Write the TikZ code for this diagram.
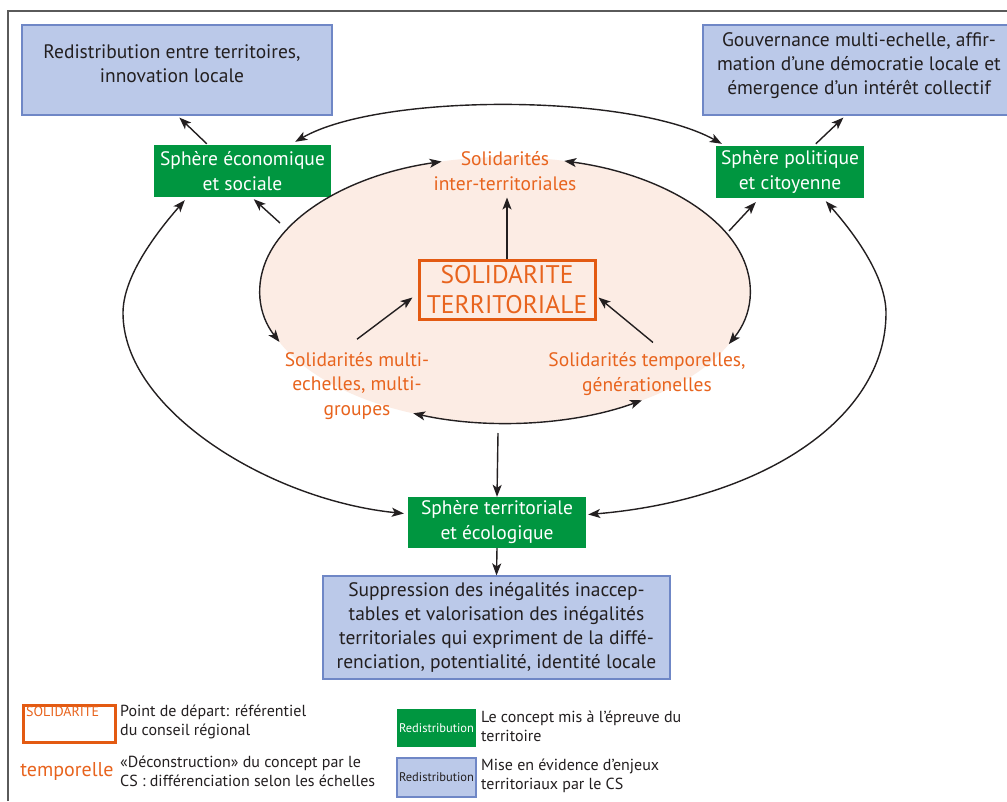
\documentclass[tikz,border=0pt]{standalone}
\usepackage{fontspec}
\setmainfont{PT Sans}
\usetikzlibrary{arrows.meta,calc}
\definecolor{dark}{HTML}{231F20}
\definecolor{org}{HTML}{E8641E}
\definecolor{orgedge}{HTML}{E35A12}
\definecolor{grn}{HTML}{009640}
\definecolor{blu}{HTML}{BBC9E9}
\definecolor{bluedge}{HTML}{6F87C6}
\definecolor{peach}{HTML}{FCECE4}
\definecolor{framecol}{HTML}{5A5A5A}
\newcommand\fmain{\fontsize{19.5}{24}\selectfont}
\newcommand\fgreen{\fontsize{19.5}{25}\selectfont}
\newcommand\flab{\fontsize{19.5}{24.5}\selectfont}
\newcommand\fsol{\fontsize{25.5}{30}\selectfont}
\newcommand\fleg{\fontsize{16}{19}\selectfont}
\newcommand\flegsmall{\fontsize{12.5}{15}\selectfont}
\begin{document}
\begin{tikzpicture}[x=1pt,y=-1pt,
  >={Stealth[length=12pt,width=9pt,inset=3pt]},
  conn/.style={draw=dark,line width=1.4pt},
  bluebox/.style={draw=bluedge,fill=blu,line width=1.2pt,inner sep=0pt},
  greenbox/.style={fill=grn,text=white,inner sep=0pt,align=center,font=\fgreen},
  darktext/.style={text=dark,inner sep=0pt,align=center,font=\fmain},
  orgtext/.style={text=org,inner sep=0pt,align=center,font=\flab},
  legtext/.style={text=dark,inner sep=0pt,align=left,anchor=west,font=\fleg}
  ]
\useasboundingbox (0,0) rectangle (1007,801);
\fill[white] (0,0) rectangle (1007,801);
% frame
\draw[framecol,line width=1.2pt] (8,801) -- (8,11) -- (1007,11);

% ellipse
\fill[peach] (505,290) ellipse [x radius=245, y radius=133];

% top blue boxes
\node[bluebox,minimum width=310,minimum height=90] (tl) at (177,70) {};
\node[darktext] (tltext) at (172,64) {Redistribution entre territoires,\\innovation locale};
\node[bluebox,minimum width=310,minimum height=90] (tr) at (858,70) {};
\node[darktext] (trtext) at (859,66) {Gouvernance multi-echelle, affir-\\mation d’une démocratie locale et\\émergence d’un intérêt collectif};

% green boxes
\node[greenbox,minimum width=177,minimum height=52] (es) at (242.5,171) {Sphère économique\\et sociale};
\node[greenbox,minimum width=148,minimum height=52] (pc) at (790,172) {Sphère politique\\et citoyenne};
\node[greenbox,minimum width=178,minimum height=51] (st) at (497,522.5) {Sphère territoriale\\et écologique};

% bottom blue box
\node[bluebox,darktext,minimum width=347,minimum height=103] (bb) at (496.5,627.5)
  {Suppression des inégalités inaccep-\\tables et valorisation des inégalités\\territoriales qui expriment de la diffé-\\renciation, potentialité, identité locale};

% central box
\node[draw=orgedge,line width=3pt,text=org,fill=none,minimum width=176,minimum height=59,inner sep=0pt,align=center,font=\fsol] (sol) at (507,289.5) {SOLIDARITE\\TERRITORIALE};

% orange labels
\node[orgtext] (lit) at (505,171) {Solidarités\\inter-territoriales};
\node[orgtext] (lmulti) at (357,386) {Solidarités multi-\\echelles, multi-\\groupes};
\node[orgtext] (ltemp) at (647,374) {Solidarités temporelles,\\générationelles};

% ellipse arcs
\path (505,290) ++(255:245 and 133) coordinate (etl);
\path (505,290) ++(284:245 and 133) coordinate (etr);
\path (505,290) ++(112:245 and 133) coordinate (ebl);
\draw[conn,<->] (etl) arc[start angle=255,end angle=157,x radius=245,y radius=133];
\draw[conn,<->] (etr) arc[start angle=284,end angle=384,x radius=245,y radius=133];
\draw[conn,<->] (ebl) arc[start angle=112,end angle=56,x radius=245,y radius=133];

% small arrows
\coordinate (ell-es) at (280,223);
\coordinate (ell-pc) at (729,231);
\coordinate (ell-st) at (498,433);
\draw[conn,->] ($(es.north west)+(53,-1)$) -- ($(tl.south west)+(158,2)$);
\draw[conn,->] (ell-es) -- ($(es.south west)+(100,2)$);
\draw[conn,->] (ell-pc) -- ($(pc.south west)+(40,4)$);
\draw[conn,->] ($(pc.north west)+(100,-2)$) -- ($(tr.south west)+(141,2)$);
\draw[conn,->] (sol.north) -- ($(sol.north)+(0,-61)$);
\draw[conn,->] ($(lmulti.north)+(0,-13)$) -- ($(sol.west)+(-5,8)$);
\draw[conn,->] ($(ltemp.north)+(6,-10)$) -- ($(sol.east)+(2,8)$);
\draw[conn,->] (ell-st) -- (st.north);
\draw[conn,->] (st.south) -- (bb.north);

% big arcs
\draw[conn,<->] ($(es.north east)+(-36,-3)$) .. controls (380,93) and (630,93) .. ($(pc.north west)+(6,-2)$);
\draw[conn,<->] ($(es.south west)+(31,3)$) .. controls (150,240) and (123,280) .. (123,313)
   .. controls (123,410) and (270,500) .. ($(st.west)+(-4,-9)$);
\draw[conn,<->] ($(pc.south west)+(110,3)$) .. controls (860,240) and (886,280) .. (886,313)
   .. controls (886,420) and (760,500) .. ($(st.east)+(2,-8)$);

% legend
\node[draw=orgedge,line width=3pt,minimum width=92,minimum height=37,inner sep=0pt] (lg1) at (69,723.5) {};
\node[text=org,inner sep=0pt,font=\fontsize{14}{16}\selectfont,anchor=north west] (lg1t) at (26,706) {SOLIDARITE};
\node[legtext] (lg1d) at (120,722) {Point de départ: référentiel\\du conseil régional};
\node[text=org,inner sep=0pt,font=\fontsize{20}{22}\selectfont] (lg2) at (67,771) {temporelle};
\node[legtext] (lg2d) at (120,771) {«Déconstruction» du concept par le\\CS : différenciation selon les échelles};
\node[fill=grn,text=white,minimum width=79,minimum height=38,inner sep=0pt,font=\flegsmall] (lg3) at (436.5,728) {Redistribution};
\node[legtext] (lg3d) at (481,726) {Le concept mis à l’épreuve du\\territoire};
\node[bluebox,text=dark,minimum width=79,minimum height=39,font=\flegsmall] (lg4) at (436.5,777.5) {Redistribution};
\node[legtext] (lg4d) at (481,775.5) {Mise en évidence d’enjeux\\territoriaux par le CS};
\end{tikzpicture}
\end{document}
